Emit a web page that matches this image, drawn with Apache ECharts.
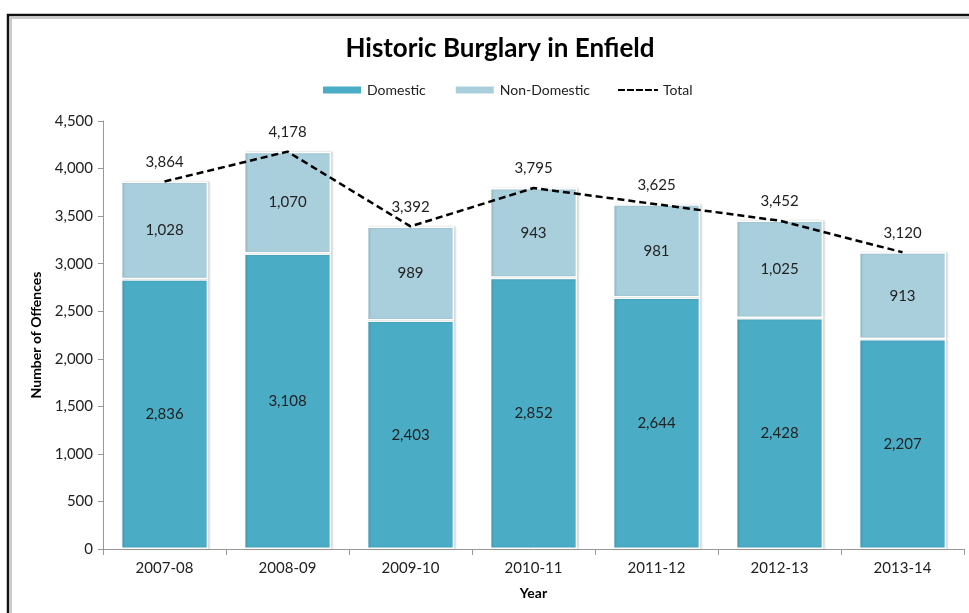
<!DOCTYPE html>
<html><head><meta charset="utf-8">
<script src="https://cdn.jsdelivr.net/npm/echarts@6/dist/echarts.min.js"></script>
<style>html,body{margin:0;padding:0;background:#fff}#c{width:969px;height:613px}</style>
</head><body><div id="c"></div>
<script>
const categories = ['2007-08','2008-09','2009-10','2010-11','2011-12','2012-13','2013-14'];
const domestic = [2836,3108,2403,2852,2644,2428,2207];
const nonDomestic = [1028,1070,989,943,981,1025,913];
const total = [3864,4178,3392,3795,3625,3452,3120];
const yTicks = {min:0, max:4500, interval:500};

const FONT = 'Lato';
const FS = 15;
const fmt = v => Number(v).toLocaleString('en-US');
const chart = echarts.init(document.getElementById('c'));
const barItem = (color) => ({
  color: color, borderColor:'#fff', borderWidth:1.5,
  shadowColor:'rgba(0,0,0,0.15)', shadowBlur:2, shadowOffsetX:1.5, shadowOffsetY:0
});
chart.setOption({
  animation:false,
  textStyle:{fontFamily:FONT},
  graphic:[
    {type:'polyline', shape:{points:[[8,613],[8,15],[969,15]]}, style:{stroke:'#111', lineWidth:2.5, fill:null}, z:100},
    {type:'polyline', shape:{points:[[11,613],[11,18],[969,18]]}, style:{stroke:'#bbb', lineWidth:1.5, fill:null}, z:100}
  ],
  title:{text:'Historic Burglary in Enfield', left:495, top:31, textAlign:'center',
    textStyle:{fontFamily:FONT, fontSize:26, fontWeight:'bold', color:'#000'}},
  legend:{top:78, left:316, itemGap:28, itemWidth:40, itemHeight:9,
    textStyle:{fontFamily:FONT, fontSize:14, color:'#222'},
    data:[{name:'Domestic', icon:'rect'},{name:'Non-Domestic', icon:'rect'},{name:'Total', icon:'path://M0,4L7,4L7,6L0,6ZM9,4L16,4L16,6L9,6ZM18,4L25,4L25,6L18,6ZM27,4L34,4L34,6L27,6ZM36,4L40,4L40,6L36,6Z'}]},
  grid:{left:103, right:5, top:121, bottom:64},
  xAxis:{type:'category', data:categories, name:'Year', nameLocation:'middle', nameGap:37,
    nameTextStyle:{fontFamily:FONT, fontWeight:'bold', fontSize:14, color:'#000'},
    axisLine:{lineStyle:{color:'#999'}}, axisTick:{show:true, length:6, lineStyle:{color:'#999'}},
    axisLabel:{fontFamily:FONT, fontSize:FS, color:'#222', margin:12}},
  yAxis:{type:'value', min:yTicks.min, max:yTicks.max, interval:yTicks.interval,
    name:'Number of Offences', nameLocation:'middle', nameGap:58,
    nameTextStyle:{fontFamily:FONT, fontWeight:'bold', fontSize:14, color:'#000'},
    axisLine:{show:true, lineStyle:{color:'#999'}}, axisTick:{show:true, length:5, lineStyle:{color:'#999'}},
    splitLine:{show:false},
    axisLabel:{fontFamily:FONT, fontSize:FS, color:'#222', margin:10, formatter:fmt}},
  series:[
    {name:'Domestic', type:'bar', stack:'s', data:domestic, barWidth:'71%',
      itemStyle:barItem('#4bacc6'),
      label:{show:true, position:'inside', fontFamily:FONT, fontSize:FS, color:'#222', formatter:p=>fmt(p.value)}},
    {name:'Non-Domestic', type:'bar', stack:'s', data:nonDomestic, barWidth:'71%',
      itemStyle:barItem('#a9cfdc'),
      label:{show:true, position:'inside', fontFamily:FONT, fontSize:FS, color:'#222', formatter:p=>fmt(p.value)}},
    {name:'Total', type:'line', data:total, showSymbol:true, symbol:'circle', symbolSize:0,
      lineStyle:{color:'#000', width:2.5, type:[7,4]}, itemStyle:{color:'#000'}, z:10,
      label:{show:true, position:'top', distance:12, fontFamily:FONT, fontSize:FS, color:'#222', formatter:p=>fmt(p.value)}}
  ]
});
</script></body></html>
